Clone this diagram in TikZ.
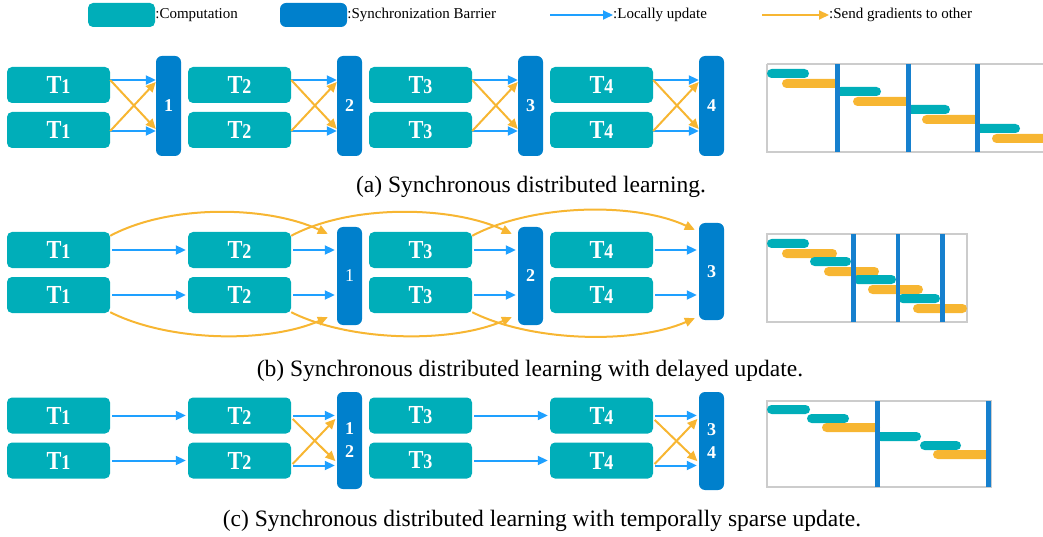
\documentclass[tikz,border=0pt]{standalone}
\usepackage{fontspec}
\setmainfont{Liberation Serif}
\newfontfamily\narrowserif[FakeStretch=0.86]{Liberation Serif}
\usetikzlibrary{arrows.meta,calc}
\definecolor{compc}{RGB}{0,174,185}
\definecolor{barc}{RGB}{0,128,204}
\definecolor{locc}{RGB}{30,160,255}
\definecolor{gradc}{RGB}{247,182,50}
\definecolor{tickc}{RGB}{22,128,206}
\definecolor{framec}{RGB}{204,204,204}
% task label: tall T followed by a smaller step number
\newcommand\tasklabel[1]{{\narrowserif\bfseries\fontsize{26}{26}\selectfont T\fontsize{21}{21}\selectfont #1}}
\tikzset{
  comp/.style={fill=compc, rounded corners=5pt, minimum width=103pt, minimum height=36pt,
    inner sep=0pt, text=white},
  barrier/.style={fill=barc, rounded corners=6pt, minimum width=25pt, inner sep=0pt,
    text=white, align=center, font=\fontsize{18}{23}\selectfont\bfseries},
  loc/.style={draw=locc, line width=2pt, -{Triangle[length=10pt,width=9pt]}},
  grad/.style={draw=gradc, line width=2pt, -{Triangle[length=10pt,width=9pt]}},
  gap/.style={shorten <=2pt, shorten >=2pt},
  lbl/.style={anchor=west, inner sep=0pt, font=\fontsize{15}{15}\selectfont},
  captxt/.style={inner sep=0pt, font=\fontsize{23.5}{24}\selectfont},
  tb/.style={fill=compc, rounded corners=4.5pt},
  ob/.style={fill=gradc, rounded corners=4.5pt},
  tickbar/.style={fill=tickc},
  framebox/.style={draw=framec, line width=1.2pt}
}
\begin{document}
\begin{tikzpicture}[x=1pt,y=-1pt]
\useasboundingbox (0,0) rectangle (1043,537);

% ---------------- legend ----------------
\node[comp, minimum width=67pt, minimum height=24pt] (lc) at (121.5,15) {};
\node[lbl] (lct) at (lc.east) {:Computation};
\node[barrier, minimum width=67pt, minimum height=24pt] (lb) at (313.5,15) {};
\node[lbl] (lbt) at (lb.east) {:Synchronization Barrier};
\coordinate (la) at (550,15);
\node[lbl] (lat) at (613,15) {:Locally update};
\draw[loc] (la) -- (lat.west);
\coordinate (lg) at (762,15);
\node[lbl] (lgt) at (829,15) {:Send gradients to other};
\draw[grad] (lg) -- (lgt.west);

% ---------------- (a) synchronous ----------------
\foreach \k in {1,...,4}{
  \node[comp] (a\k t) at ({58.5+181*(\k-1)},85) {\tasklabel{\k}};
  \node[comp] (a\k b) at ({58.5+181*(\k-1)},130) {\tasklabel{\k}};
  \node[barrier, minimum height=100pt] (ab\k) at ({168.5+181*(\k-1)},106) {\k};
  \path ([yshift=5pt]a\k t.east) coordinate (p\k) ([yshift=-1pt]a\k b.east) coordinate (q\k);
  \draw[loc] (p\k) -- (p\k -| ab\k.west);
  \draw[loc] (q\k) -- (q\k -| ab\k.west);
  \draw[grad] (p\k) -- ($(q\k -| ab\k.west)+(0,-2)$);
  \draw[grad] (q\k) -- ($(p\k -| ab\k.west)+(0,2)$);
}
\node[captxt] (capa) at (531,187) {(a) Synchronous distributed learning.};

% timeline (a)
\draw[framebox] (767,64) -- (1046,64) (767,64) -- (767,152) -- (1046,152);
\fill[tb] (767,69) rectangle (809,78);
\fill[ob] (782,79) rectangle (840,88);
\fill[tb] (836,87) rectangle (881,96);
\fill[ob] (853,97) rectangle (910,106);
\fill[tb] (906,105) rectangle (950,114);
\fill[ob] (922,115) rectangle (979,124);
\fill[tb] (975,124) rectangle (1020,133);
\fill[ob] (992,134) rectangle (1050,143);
\fill[tickbar] (835,64) rectangle (840,152);
\fill[tickbar] (906,64) rectangle (911,152);
\fill[tickbar] (975,64) rectangle (980,152);

% ---------------- (b) delayed update ----------------
\foreach \k in {1,...,4}{
  \node[comp] (b\k t) at ({58.5+181*(\k-1)},250) {\tasklabel{\k}};
  \node[comp] (b\k b) at ({58.5+181*(\k-1)},295) {\tasklabel{\k}};
}
\node[barrier, minimum height=98pt, font=\fontsize{18}{23}\selectfont] (bb1) at (349.5,276) {1};
\node[barrier, minimum height=98pt] (bb2) at (530.5,276) {2};
\node[barrier, minimum height=97pt] (bb3) at (711.5,271.5) {3};
\foreach \r in {t,b}{
  \draw[loc,gap] (b1\r.east) -- (b2\r.west);
  \draw[loc,gap] (b2\r.east) -- (b2\r.east -| bb1.west);
  \draw[loc,gap] (b3\r.east) -- (b3\r.east -| bb2.west);
  \draw[loc,gap] (b4\r.east) -- (b4\r.east -| bb3.west);
}
\draw[grad] ([yshift=-4pt]b1t.north east) .. controls +(60,-32) and +(-60,-28) .. ([xshift=-9pt,yshift=-7pt]bb1.north west);
\draw[grad] ([yshift=-4pt]b2t.north east) .. controls +(60,-32) and +(-60,-28) .. ([xshift=-6pt,yshift=-7pt]bb2.north west);
\draw[grad] ([yshift=-4pt]b3t.north east) .. controls +(60,-32) and +(-60,-28) .. ([xshift=-4pt,yshift=-7pt]bb3.north west);
\draw[grad] ([yshift=1pt]b1b.south east) .. controls +(60,30) and +(-60,26) .. ([xshift=-9pt,yshift=8pt]bb1.south west);
\draw[grad] ([yshift=1pt]b2b.south east) .. controls +(60,30) and +(-60,26) .. ([xshift=-6pt,yshift=8pt]bb2.south west);
\draw[grad] ([yshift=1pt]b3b.south east) .. controls +(60,30) and +(-60,26) .. ([xshift=-4pt,yshift=2pt]bb3.south west);
\node[captxt] (capb) at (530,371) {(b) Synchronous distributed learning with delayed update.};

% timeline (b)
\draw[framebox] (767,234) rectangle (967,322);
\fill[tb] (767,239) rectangle (809,248);
\fill[ob] (782,249) rectangle (837,258);
\fill[tb] (810,257) rectangle (851,266);
\fill[ob] (824,267) rectangle (879,276);
\fill[tb] (853,275) rectangle (896,284);
\fill[ob] (868,285) rectangle (923,294);
\fill[tb] (898,294) rectangle (940,303);
\fill[ob] (913,304) rectangle (967,313);
\fill[tickbar] (851,234) rectangle (856,322);
\fill[tickbar] (896,234) rectangle (900,322);
\fill[tickbar] (940,234) rectangle (945,322);

% ---------------- (c) temporally sparse update ----------------
\foreach \k in {1,...,4}{
  \node[comp] (c\k t) at ({58.5+181*(\k-1)},415.5) {\tasklabel{\k}};
  \node[comp] (c\k b) at ({58.5+181*(\k-1)},460.5) {\tasklabel{\k}};
}
\node[barrier, minimum height=97pt] (cb1) at (349.5,440.5) {1\\2};
\node[barrier, minimum height=98pt] (cb2) at (711.5,441) {3\\4};
\foreach \r in {t,b}{
  \draw[loc,gap] (c1\r.east) -- (c2\r.west);
  \draw[loc,gap] (c3\r.east) -- (c4\r.west);
}
\path (c2t.east) coordinate (u1) ([yshift=-5pt]c2b.east) coordinate (v1)
      (c4t.east) coordinate (u2) ([yshift=-5pt]c4b.east) coordinate (v2);
\draw[loc,gap] (u1) -- (u1 -| cb1.west);
\draw[loc,gap] (v1) -- (v1 -| cb1.west);
\draw[grad,gap] ($(u1)+(0,2)$) -- ($(v1 -| cb1.west)+(0,-3)$);
\draw[grad,gap] (v1) -- ($(u1 -| cb1.west)+(0,2)$);
\draw[loc,gap] (u2) -- (u2 -| cb2.west);
\draw[loc,gap] (v2) -- (v2 -| cb2.west);
\draw[grad,gap] ($(u2)+(0,3)$) -- ($(v2 -| cb2.west)+(0,-3)$);
\draw[grad,gap] (v2) -- ($(u2 -| cb2.west)+(0,2)$);
\node[captxt] (capc) at (542,521) {(c) Synchronous distributed learning with temporally sparse update.};

% timeline (c)
\draw[framebox] (767,401) rectangle (991,487);
\fill[tb] (767,405) rectangle (810,414);
\fill[tb] (807,414) rectangle (849,423);
\fill[ob] (822,423) rectangle (880,432);
\fill[tb] (876,432) rectangle (921,441);
\fill[tb] (920,441) rectangle (961,450);
\fill[ob] (933,450) rectangle (990,459);
\fill[tickbar] (875,401) rectangle (880,487);
\fill[tickbar] (986,401) rectangle (991,487);
\end{tikzpicture}
\end{document}
